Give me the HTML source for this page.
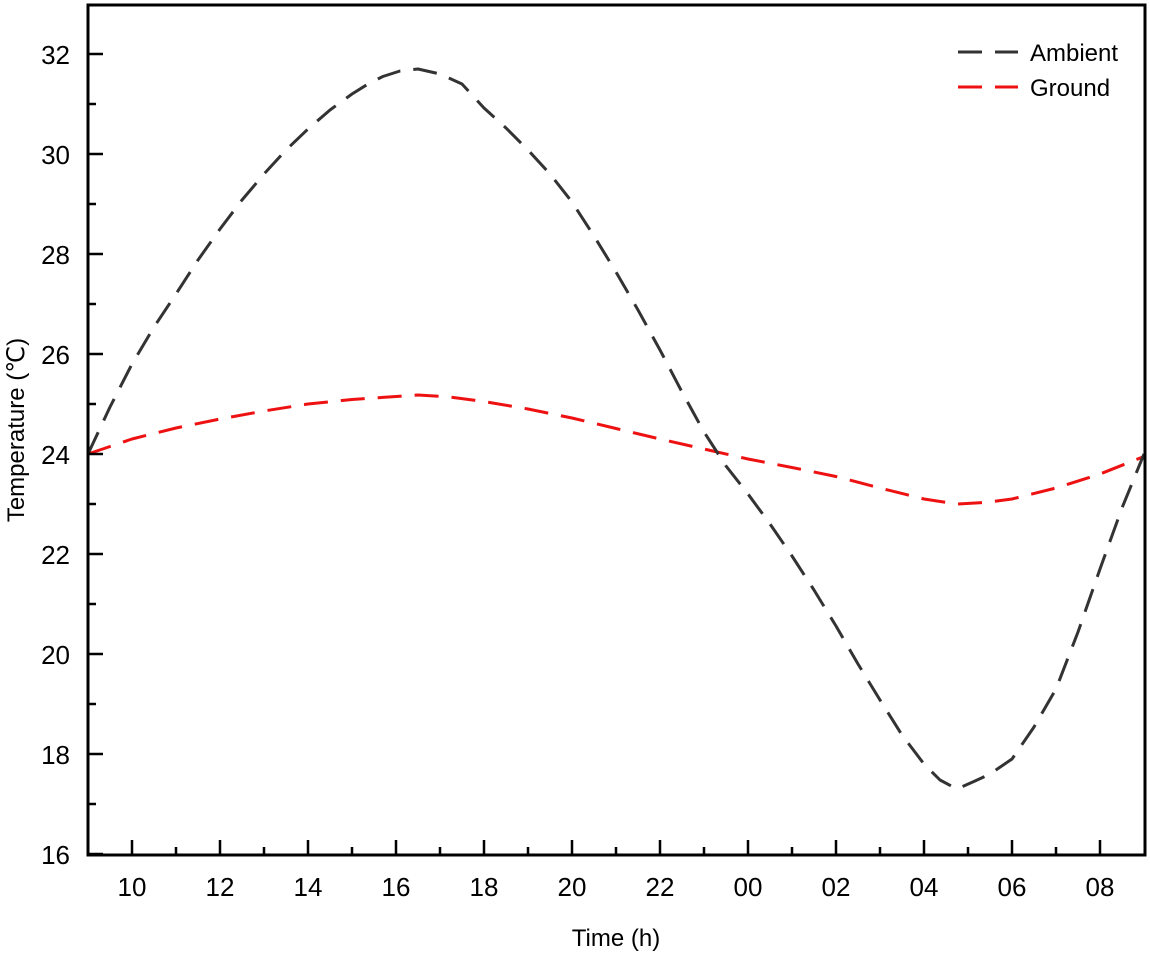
<!DOCTYPE html>
<html><head><meta charset="utf-8"><style>body{margin:0;background:#fff}svg{display:block}text{font-family:"Liberation Sans",Arial,sans-serif;fill:#000}</style></head>
<body>
<svg width="1150" height="956" viewBox="0 0 1150 956" xmlns="http://www.w3.org/2000/svg">
<polyline fill="none" stroke="#ee1111" stroke-width="3" stroke-dasharray="24,13" stroke-linejoin="round" points="88,454 132,439 176,428 220,419 264,411 308,404 352,399.5 396,396.5 418,395 450,397 484,401.5 528,409 572,418 616,428.5 660,439 704,449 748,459 792,467.5 836,476.5 880,488 924,499 957,504 985,502.5 1012,499 1056,488 1100,474 1144,456.5"/>
<polyline fill="none" stroke="#333" stroke-width="3" stroke-dasharray="24,13" stroke-linejoin="round" points="88,454 110,407 132,364 154,327 176,294 198,260 220,229 242,200 264,174 286,150 308,129 330,110 352,94 368,84 382.8,76.5 400,71 418,69 440,74 462,84 484,108 506,128 528,150 550,174 572,202 594,236 616,272 638,310 660,350 682,392 704,432 726,466 748,494 770,524 792,556 814,590 836,626 858,664 880,700 902,735 924,764 940,780 957,789 975,781 990,774 1012,759 1034,727 1056,689 1078,632 1100,569 1122,508 1144,454"/>
<rect x="88" y="5" width="1057" height="850" fill="none" stroke="#000" stroke-width="3"/>
<g stroke="#000" stroke-width="2.5">
<path d="M132,855v-15M220,855v-15M308,855v-15M396,855v-15M484,855v-15M572,855v-15M660,855v-15M748,855v-15M836,855v-15M924,855v-15M1012,855v-15M1100,855v-15"/>
<path d="M176,855v-8M264,855v-8M352,855v-8M440,855v-8M528,855v-8M616,855v-8M704,855v-8M792,855v-8M880,855v-8M968,855v-8M1056,855v-8"/>
<path d="M88,854h15M88,754h15M88,654h15M88,554h15M88,454h15M88,354h15M88,254h15M88,154h15M88,54h15"/>
<path d="M88,804h8M88,704h8M88,604h8M88,504h8M88,404h8M88,304h8M88,204h8M88,104h8"/>
</g>
<g font-size="26" text-anchor="middle">
<text x="132" y="896">10</text><text x="220" y="896">12</text><text x="308" y="896">14</text><text x="396" y="896">16</text><text x="484" y="896">18</text><text x="572" y="896">20</text><text x="660" y="896">22</text><text x="748" y="896">00</text><text x="836" y="896">02</text><text x="924" y="896">04</text><text x="1012" y="896">06</text><text x="1100" y="896">08</text>
</g>
<g font-size="26" text-anchor="end">
<text x="70" y="864">16</text><text x="70" y="764">18</text><text x="70" y="664">20</text><text x="70" y="564">22</text><text x="70" y="464">24</text><text x="70" y="364">26</text><text x="70" y="264">28</text><text x="70" y="164">30</text><text x="70" y="64">32</text>
</g>
<text x="616" y="946" font-size="24" text-anchor="middle">Time (h)</text>
<text transform="translate(24,430) rotate(-90)" font-size="24" text-anchor="middle">Temperature (℃)</text>
<line x1="958" y1="52" x2="1018" y2="52" stroke="#333" stroke-width="3" stroke-dasharray="24,13"/>
<text x="1030" y="61" font-size="24">Ambient</text>
<line x1="958" y1="87" x2="1018" y2="87" stroke="#ee1111" stroke-width="3" stroke-dasharray="24,13"/>
<text x="1030" y="96" font-size="24">Ground</text>
</svg>
</body></html>
